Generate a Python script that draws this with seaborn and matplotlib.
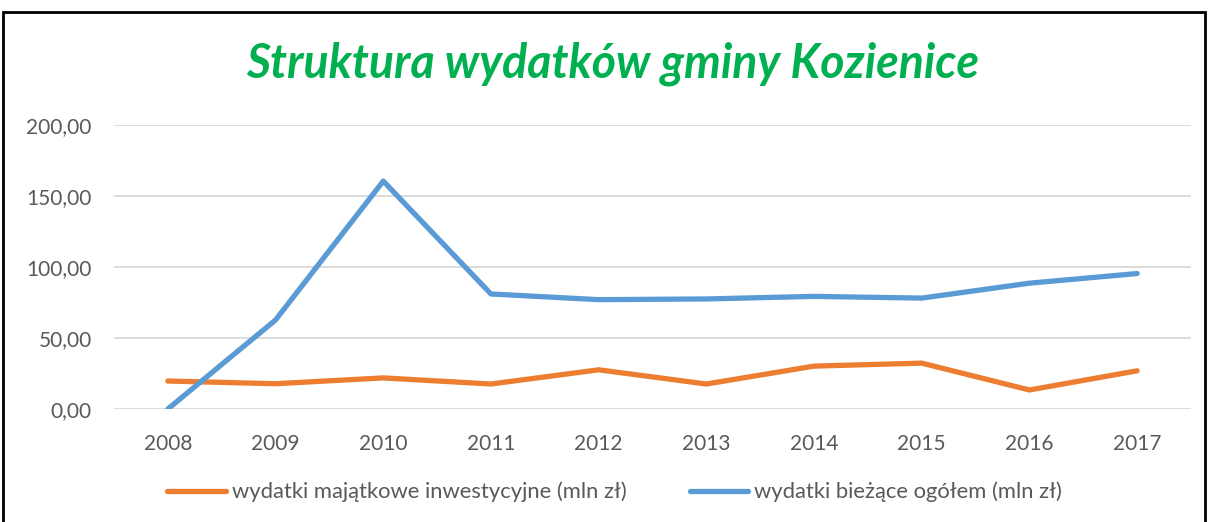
import pandas as pd
import matplotlib.pyplot as plt
import seaborn as sns
from matplotlib.patches import Rectangle
from matplotlib.ticker import FuncFormatter

# dane (mln zł)
lata = ['2008', '2009', '2010', '2011', '2012', '2013', '2014', '2015', '2016', '2017']
majatkowe = [19.7, 17.8, 21.9, 17.6, 27.6, 17.6, 30.2, 32.3, 13.4, 26.9]
biezace = [0.0, 62.7, 160.5, 81.0, 77.0, 77.5, 79.3, 78.1, 88.6, 95.4]
nazwy = ['wydatki majątkowe inwestycyjne (mln zł)', 'wydatki bieżące ogółem (mln zł)']
kolory = ['#ED7D31', '#5B9BD5']

df = pd.concat([
    pd.DataFrame({'rok': lata, 'wartosc': majatkowe, 'seria': nazwy[0]}),
    pd.DataFrame({'rok': lata, 'wartosc': biezace, 'seria': nazwy[1]}),
])

sns.set_style('white')
plt.rcParams['font.family'] = ['Lato', 'DejaVu Sans']

fig = plt.figure(figsize=(12.08, 5.22), dpi=100)
ax = fig.add_axes([114 / 1208, 113 / 522, 1077 / 1208, 284 / 522])

sns.lineplot(data=df, x='rok', y='wartosc', hue='seria', palette=kolory,
             linewidth=3.8, ax=ax, sort=False)
for line in ax.get_lines():
    line.set_solid_capstyle('round')

ax.set_xlim(-0.5, len(lata) - 0.5)
ax.set_ylim(0, 200)
ax.set_yticks([0, 50, 100, 150, 200])
ax.yaxis.set_major_formatter(FuncFormatter(lambda v, p: f'{v:.2f}'.replace('.', ',')))
ax.grid(axis='y', color='#D9D9D9', linewidth=1.3)
ax.set_axisbelow(True)
for s in ax.spines.values():
    s.set_visible(False)
ax.tick_params(axis='both', length=0, labelsize=15, labelcolor='#595959')
ax.tick_params(axis='y', pad=16)
ax.tick_params(axis='x', pad=18)
ax.set_xlabel('')
ax.set_ylabel('')

ax.legend(loc='center', bbox_to_anchor=(0.509, 30 / 522), bbox_transform=fig.transFigure,
          ncol=2, frameon=False, fontsize=15.8, handlelength=2.65, handletextpad=0.28,
          columnspacing=2.9, labelcolor='#595959')

fig.text(0.507, 458 / 522, 'Struktura wydatków gminy Kozienice', ha='center', va='center',
         fontsize=33.5, fontweight='bold', fontstyle='italic', color='#00B050')

# ramka wokół wykresu
fig.patches.append(Rectangle((3 / 1208, -0.05), 1202 / 1208, 1.05 - 12 / 522,
                             transform=fig.transFigure, fill=False,
                             edgecolor='black', linewidth=2))

fig.savefig('out.png', dpi=100)
